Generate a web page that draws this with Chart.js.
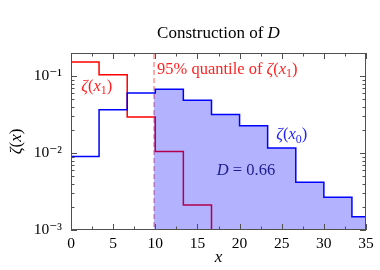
<!DOCTYPE html>
<html lang="en">
<head>
    <meta charset="UTF-8">
    <title>Construction of D</title>
    <script src="https://cdn.jsdelivr.net/npm/chart.js"></script>
    <style>
        html, body { margin: 0; padding: 0; background: #fff; }
        #grafico { display: block; }
    </style>
</head>
<body>
    <canvas id="grafico" width="380" height="270"></canvas>

<script>
    // bin edges (last one is the axis end, 35)
    const binEdges = [0, 3.33, 6.67, 10, 13.33, 16.67, 20, 23.33, 26.67, 30, 33.33, 35];
    // zeta(x0), per bin
    const zetaX0 = [0.0090, 0.0367, 0.0605, 0.0675, 0.0485, 0.0318, 0.0227, 0.0116, 0.00419, 0.00267, 0.00149];
    // zeta(x1), per bin, empty after 16.67
    const zetaX1 = [0.153, 0.104, 0.0294, 0.0105, 0.00212];
    const quantil95 = 9.85;
    const valorD = '0.66';

    const xTicks = [0, 5, 10, 15, 20, 25, 30, 35];
    const yMajor = [0.001, 0.01, 0.1];
    const yLabels = ['10\u207B\u00B3', '10\u207B\u00B2', '10\u207B\u00B9'];

    const fonte = "'Liberation Serif', 'DejaVu Serif', serif";

    // stepped 'before': horizontal no valor anterior ate a borda seguinte
    function degraus(vals, fim) {
        const pts = [];
        for (let i = 0; i < vals.length; i++) pts.push({ x: binEdges[i], y: vals[i] });
        pts.push({ x: binEdges[vals.length], y: fim === undefined ? vals[vals.length - 1] : fim });
        return pts;
    }

    // area a direita do quantil, abaixo de zeta(x0)
    function areaD() {
        let k = 0;
        while (binEdges[k + 1] <= quantil95) k++;
        const pts = [{ x: quantil95, y: zetaX0[k] }];
        for (let i = k + 1; i < zetaX0.length; i++) pts.push({ x: binEdges[i], y: zetaX0[i] });
        pts.push({ x: binEdges[zetaX0.length], y: zetaX0[zetaX0.length - 1] });
        return pts;
    }

    const yTickValues = [];
    yMajor.forEach(b => { for (let m = 1; m <= 9; m++) { const v = b * m; if (v <= 0.2 + 1e-9) yTickValues.push(v); } });

    function ehPotencia(v) {
        return Math.abs(Math.log10(v) - Math.round(Math.log10(v))) < 1e-6;
    }

    // pedacos: [texto, estilo]  '' normal, 'i' italico, 's' subscrito
    function escreverMat(ctx, pedacos, x, y, tam, cor, alinhar) {
        const fontOf = (e) => (e === 'i' ? 'italic ' : '') + (e === 's' ? tam * 0.72 : tam) + 'px ' + fonte;
        let larg = 0;
        pedacos.forEach(p => { ctx.font = fontOf(p[1]); larg += ctx.measureText(p[0]).width; });
        let cx = alinhar === 'center' ? x - larg / 2 : x;
        ctx.fillStyle = cor;
        ctx.textBaseline = 'middle';
        ctx.textAlign = 'left';
        pedacos.forEach(p => {
            ctx.font = fontOf(p[1]);
            ctx.fillText(p[0], cx, p[1] === 's' ? y + tam * 0.28 : y);
            cx += ctx.measureText(p[0]).width;
        });
    }

    const textos = [
        { x: quantil95, dx: 3, y: 0.122, cor: '#f22', partes: [['95% quantile of ', ''], ['\u03B6', 'i'], ['(', ''], ['x', 'i'], ['1', 's'], [')', '']] },
        { x: 1.22, dx: 0, y: 0.0738, cor: '#f22', partes: [['\u03B6', 'i'], ['(', ''], ['x', 'i'], ['1', 's'], [')', '']] },
        { x: 24.35, dx: 0, y: 0.0173, cor: '#22f', partes: [['\u03B6', 'i'], ['(', ''], ['x', 'i'], ['0', 's'], [')', '']] },
        { x: 17.3, dx: 0, y: 0.00593, cor: '#1c1c8c', partes: [['D', 'i'], [' = ' + valorD, '']] }
    ];

    const extras = {
        id: 'extras',
        afterDatasetsDraw(chart) {
            const { ctx, chartArea: a, scales } = chart;
            const sx = scales.x, sy = scales.y;
            ctx.save();
            // moldura
            ctx.strokeStyle = '#505050';
            ctx.lineWidth = 1;
            ctx.strokeRect(a.left + 0.5, a.top + 0.5, a.right - a.left - 1, a.bottom - a.top - 1);
            // marcas para dentro
            sx.ticks.forEach(t => {
                const px = Math.round(sx.getPixelForValue(t.value)) + 0.5;
                const len = xTicks.includes(t.value) ? 6 : 3.5;
                ctx.beginPath();
                ctx.moveTo(px, a.bottom); ctx.lineTo(px, a.bottom - len);
                ctx.moveTo(px, a.top); ctx.lineTo(px, a.top + len);
                ctx.stroke();
            });
            sy.ticks.forEach(t => {
                const py = Math.round(sy.getPixelForValue(t.value)) + 0.5;
                const len = ehPotencia(t.value) ? 6 : 3.5;
                ctx.beginPath();
                ctx.moveTo(a.left, py); ctx.lineTo(a.left + len, py);
                ctx.moveTo(a.right, py); ctx.lineTo(a.right - len, py);
                ctx.stroke();
            });
            textos.forEach(t => {
                escreverMat(ctx, t.partes, sx.getPixelForValue(t.x) + t.dx, sy.getPixelForValue(t.y), 16.5, t.cor, 'left');
            });
            // titulo e eixos
            const meio = (a.left + a.right) / 2;
            escreverMat(ctx, [['Construction of ', ''], ['D', 'i']], meio, 34, 17, '#000', 'center');
            escreverMat(ctx, [['x', 'i']], meio, 258, 17, '#000', 'center');
            ctx.translate(17, (a.top + a.bottom) / 2);
            ctx.rotate(-Math.PI / 2);
            escreverMat(ctx, [['\u03B6', 'i'], ['(', ''], ['x', 'i'], [')', '']], 0, 0, 17, '#000', 'center');
            ctx.restore();
        }
    };

    new Chart(document.getElementById('grafico'), {
        type: 'line',
        data: {
            datasets: [
                {
                    label: 'zeta(x0)',
                    data: degraus(zetaX0),
                    stepped: 'before',
                    borderColor: '#0000ff',
                    borderWidth: 1.5,
                    pointRadius: 0,
                    fill: false
                },
                {
                    label: 'D',
                    data: areaD(),
                    stepped: 'before',
                    borderWidth: 0,
                    borderColor: 'rgba(0,0,0,0)',
                    backgroundColor: 'rgba(0,0,255,0.3)',
                    pointRadius: 0,
                    fill: 'start'
                },
                {
                    label: 'quantil',
                    data: [{ x: quantil95, y: 0.0001 }, { x: quantil95, y: 1 }],
                    borderColor: 'rgba(255,0,0,0.5)',
                    borderDash: [5, 3],
                    borderWidth: 1.3,
                    pointRadius: 0,
                    fill: false
                },
                {
                    label: 'zeta(x1)',
                    data: degraus(zetaX1, 0.00001),
                    stepped: 'before',
                    borderColor: '#ff0000',
                    borderWidth: 1.5,
                    pointRadius: 0,
                    fill: false
                }
            ]
        },
        options: {
            responsive: false,
            animation: false,
            layout: { padding: { top: 53, right: 14, left: 0, bottom: 0 } },
            plugins: { legend: { display: false }, tooltip: { enabled: false }, title: { display: false } },
            scales: {
                x: {
                    type: 'linear',
                    min: 0,
                    max: 35,
                    afterBuildTicks: s => {
                        const tk = [];
                        for (let i = 0; i < xTicks.length; i++) {
                            tk.push({ value: xTicks[i] });
                            if (i < xTicks.length - 1) tk.push({ value: (xTicks[i] + xTicks[i + 1]) / 2 });
                        }
                        s.ticks = tk;
                    },
                    afterFit: s => { s.height = 40; },
                    grid: { display: false },
                    border: { display: false },
                    ticks: {
                        autoSkip: false,
                        maxRotation: 0,
                        padding: -3,
                        color: '#000',
                        font: { family: fonte, size: 15.5 },
                        callback: v => xTicks.includes(v) ? String(v) : ''
                    }
                },
                y: {
                    type: 'logarithmic',
                    min: 0.001,
                    max: 0.2,
                    afterBuildTicks: s => { s.ticks = yTickValues.map(v => ({ value: v })); },
                    afterFit: s => { s.width = 71; },
                    grid: { display: false },
                    border: { display: false },
                    ticks: {
                        autoSkip: false,
                        padding: 1,
                        color: '#000',
                        font: { family: fonte, size: 15.5 },
                        callback: v => {
                            for (let i = 0; i < yMajor.length; i++) {
                                if (Math.abs(v - yMajor[i]) < yMajor[i] * 1e-6) return yLabels[i];
                            }
                            return '';
                        }
                    }
                }
            }
        },
        plugins: [extras]
    });
</script>
</body>
</html>
